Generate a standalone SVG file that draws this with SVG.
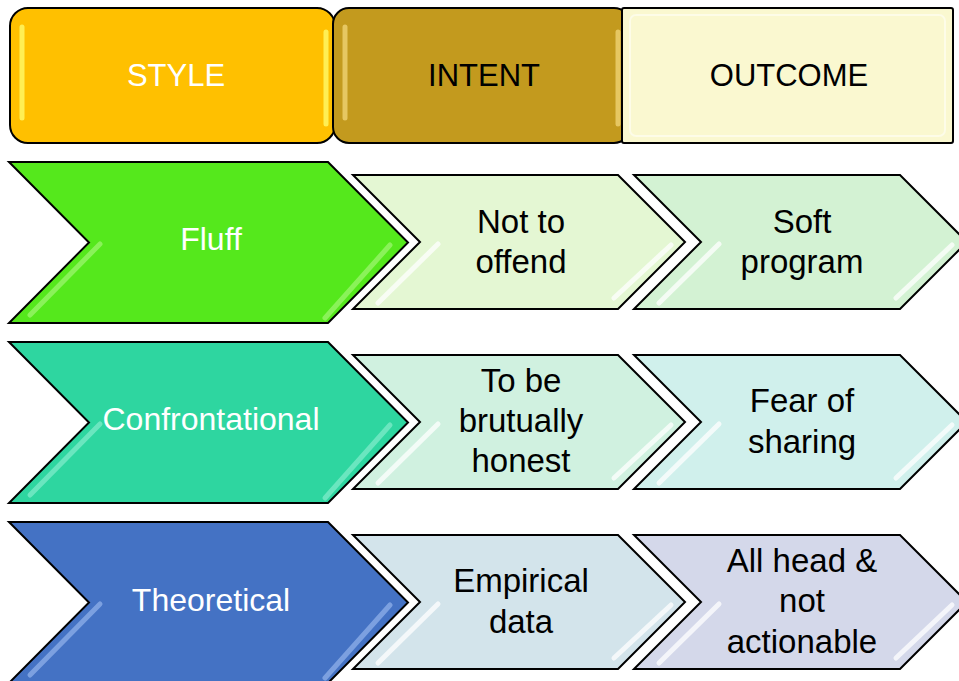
<svg xmlns="http://www.w3.org/2000/svg" width="959" height="681" viewBox="0 0 959 681">
<style>
.box{stroke:#000;stroke-width:2;stroke-linejoin:miter}
.t{font-family:"Liberation Sans",Arial,sans-serif;text-anchor:middle}
.hd{font-size:31px}
.st{font-size:32px;fill:#fff}
.bd{font-size:33px;fill:#000}
.hl{fill:none;stroke-linecap:round;stroke-width:5;opacity:0.75}
</style>
<rect width="959" height="681" fill="#fff"/>

<g id="hdr-style">
<rect class="box" x="10" y="8" width="325" height="135" rx="18" fill="#FFC000"/>
<line class="hl" x1="22" y1="27" x2="22" y2="118" stroke="#FFFF70" stroke-width="4"/>
<line class="hl" x1="326" y1="32" x2="326" y2="124" stroke="#FFFF70" stroke-width="4"/>
<text class="t hd" x="176" y="86" fill="#fff">STYLE</text>
</g>
<g id="hdr-intent">
<rect class="box" x="333" y="8" width="297" height="135" rx="16" fill="#C39A1E"/>
<line class="hl" x1="345" y1="27" x2="345" y2="118" stroke="#F2D67A" stroke-width="4"/>
<line class="hl" x1="618" y1="32" x2="618" y2="124" stroke="#F2D67A" stroke-width="4"/>
<text class="t hd" x="484" y="86" fill="#000">INTENT</text>
</g>
<g id="hdr-outcome">
<rect class="box" x="622" y="8" width="331" height="135" rx="2" fill="#FAF8D0"/>
<rect x="630" y="15" width="315" height="121" rx="6" fill="none" stroke="#fff" stroke-width="2" opacity="0.5"/>
<text class="t hd" x="789" y="86" fill="#000">OUTCOME</text>
</g>

<!-- Row 1 -->
<g id="style-fluff">
<path class="box" d="M9,162 H328 L408,242.5 L328,323 H9 L89,242.5 Z" fill="#55E81C"/>
<line class="hl" x1="100" y1="244" x2="30" y2="315" stroke="#9CF56E"/>
<line class="hl" x1="390" y1="245" x2="325" y2="318" stroke="#9CF56E"/>
<text class="t st" x="211" y="250">Fluff</text>
</g>
<g id="intent-fluff">
<path class="box" d="M353,175 H618 L685,242 L618,309 H353 L420,242 Z" fill="#E4F7D3"/>
<line class="hl" x1="438" y1="244" x2="378" y2="303" stroke="#FFFFFF" stroke-width="4"/>
<line class="hl" x1="671" y1="245" x2="614" y2="298" stroke="#FFFFFF" stroke-width="4"/>
<text class="t bd" x="521" y="233">Not to</text>
<text class="t bd" x="521" y="273">offend</text>
</g>
<g id="outcome-fluff">
<path class="box" d="M634,175 H900 L967,242 L900,309 H634 L701,242 Z" fill="#D3F2D3"/>
<line class="hl" x1="719" y1="244" x2="659" y2="303" stroke="#FFFFFF" stroke-width="4"/>
<line class="hl" x1="952" y1="245" x2="896" y2="298" stroke="#FFFFFF" stroke-width="4"/>
<text class="t bd" x="802" y="233">Soft</text>
<text class="t bd" x="802" y="273">program</text>
</g>

<!-- Row 2 -->
<g id="style-confrontational">
<path class="box" d="M9,342 H328 L408,422.5 L328,503 H9 L89,422.5 Z" fill="#2ED6A0"/>
<line class="hl" x1="100" y1="424" x2="30" y2="495" stroke="#7FEBC9"/>
<line class="hl" x1="390" y1="425" x2="325" y2="498" stroke="#7FEBC9"/>
<text class="t st" x="211" y="430">Confrontational</text>
</g>
<g id="intent-confrontational">
<path class="box" d="M353,355 H618 L685,422 L618,489 H353 L420,422 Z" fill="#D0F1E0"/>
<line class="hl" x1="438" y1="424" x2="378" y2="483" stroke="#FFFFFF" stroke-width="4"/>
<line class="hl" x1="671" y1="425" x2="614" y2="478" stroke="#FFFFFF" stroke-width="4"/>
<text class="t bd" x="521" y="392">To be</text>
<text class="t bd" x="521" y="432">brutually</text>
<text class="t bd" x="521" y="472">honest</text>
</g>
<g id="outcome-confrontational">
<path class="box" d="M634,355 H900 L967,422 L900,489 H634 L701,422 Z" fill="#D0F0EC"/>
<line class="hl" x1="719" y1="424" x2="659" y2="483" stroke="#FFFFFF" stroke-width="4"/>
<line class="hl" x1="952" y1="425" x2="896" y2="478" stroke="#FFFFFF" stroke-width="4"/>
<text class="t bd" x="802" y="412">Fear of</text>
<text class="t bd" x="802" y="453">sharing</text>
</g>

<!-- Row 3 -->
<g id="style-theoretical">
<path class="box" d="M9,522 H328 L408,602.5 L328,683 H9 L89,602.5 Z" fill="#4472C4"/>
<line class="hl" x1="100" y1="604" x2="30" y2="675" stroke="#8FB0EA"/>
<line class="hl" x1="390" y1="605" x2="325" y2="678" stroke="#8FB0EA"/>
<text class="t st" x="211" y="611">Theoretical</text>
</g>
<g id="intent-theoretical">
<path class="box" d="M353,535 H618 L685,602 L618,669 H353 L420,602 Z" fill="#D3E4EB"/>
<line class="hl" x1="438" y1="604" x2="378" y2="663" stroke="#FFFFFF" stroke-width="4"/>
<line class="hl" x1="671" y1="605" x2="614" y2="658" stroke="#FFFFFF" stroke-width="4"/>
<text class="t bd" x="521" y="592">Empirical</text>
<text class="t bd" x="521" y="633">data</text>
</g>
<g id="outcome-theoretical">
<path class="box" d="M634,535 H900 L967,602 L900,669 H634 L701,602 Z" fill="#D4D8EA"/>
<line class="hl" x1="719" y1="604" x2="659" y2="663" stroke="#FFFFFF" stroke-width="4"/>
<line class="hl" x1="952" y1="605" x2="896" y2="658" stroke="#FFFFFF" stroke-width="4"/>
<text class="t bd" x="802" y="572">All head &amp;</text>
<text class="t bd" x="802" y="612">not</text>
<text class="t bd" x="802" y="653">actionable</text>
</g>

<g id="connectors"></g>
</svg>
